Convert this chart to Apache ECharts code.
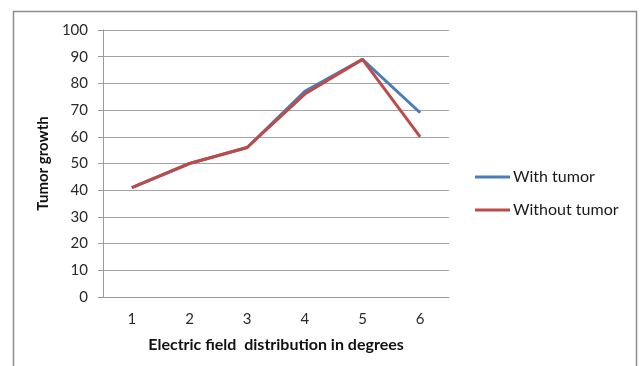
<!DOCTYPE html>
<html>
<head>
<meta charset="utf-8">
<script src="https://cdn.jsdelivr.net/npm/echarts@6/dist/echarts.min.js"></script>
<style>
  html, body { margin: 0; padding: 0; background: #fff; }
  #chart { width: 640px; height: 366px; }
</style>
</head>
<body>
<div id="chart"></div>
<script>
// Electric field distribution (degrees) vs tumor growth
const categories = ['1', '2', '3', '4', '5', '6'];
const withTumor = [41, 50, 56, 77, 89, 69];
const withoutTumor = [41, 50, 56, 76, 89, 60];

const FONT = 'Lato, "Open Sans", sans-serif';

const chart = echarts.init(document.getElementById('chart'), null, { renderer: 'canvas' });
chart.setOption({
  backgroundColor: '#ffffff',
  animation: false,
  graphic: [{
    type: 'rect',
    shape: { x: 13.5, y: 11.5, width: 623, height: 380 },
    style: { fill: 'none', stroke: '#8c8c8c', lineWidth: 1.5 },
    silent: true,
    z: -1
  }],
  grid: { left: 103, right: 191, top: 30, bottom: 69 },
  legend: {
    orient: 'vertical',
    left: 475,
    top: 169,
    padding: 0,
    itemWidth: 35,
    itemHeight: 3,
    itemGap: 17,
    icon: 'rect',
    textStyle: { fontFamily: FONT, fontSize: 16, color: '#1a1a1a', padding: [0, 0, 0, -2] },
    data: ['With tumor', 'Without tumor']
  },
  xAxis: {
    type: 'category',
    data: categories,
    boundaryGap: true,
    name: 'Electric field  distribution in degrees',
    nameLocation: 'middle',
    nameGap: 40,
    nameTextStyle: { fontFamily: FONT, fontSize: 16, fontWeight: 'bold', color: '#111' },
    axisLine: { lineStyle: { color: '#9a9a9a', width: 1 } },
    axisTick: { show: false },
    axisLabel: { fontFamily: FONT, fontSize: 15, color: '#2a2a2a', margin: 15 }
  },
  yAxis: {
    type: 'value',
    min: 0,
    max: 100,
    interval: 10,
    name: 'Tumor growth',
    nameLocation: 'middle',
    nameGap: 43,
    nameTextStyle: { fontFamily: FONT, fontSize: 15, fontWeight: 'bold', color: '#111' },
    axisLine: { show: true, lineStyle: { color: '#9a9a9a', width: 1 } },
    axisTick: { show: true, length: 5, lineStyle: { color: '#9a9a9a' } },
    axisLabel: { fontFamily: FONT, fontSize: 15, color: '#2a2a2a', margin: 15 },
    splitLine: { lineStyle: { color: '#a3a3a3', width: 1 } }
  },
  series: [
    {
      name: 'With tumor',
      type: 'line',
      data: withTumor,
      symbol: 'none',
      lineStyle: { color: '#4a7ebb', width: 3 },
      itemStyle: { color: '#4a7ebb' },
      z: 2
    },
    {
      name: 'Without tumor',
      type: 'line',
      data: withoutTumor,
      symbol: 'none',
      lineStyle: { color: '#be4b48', width: 3 },
      itemStyle: { color: '#be4b48' },
      z: 3
    }
  ]
});
</script>
</body>
</html>
